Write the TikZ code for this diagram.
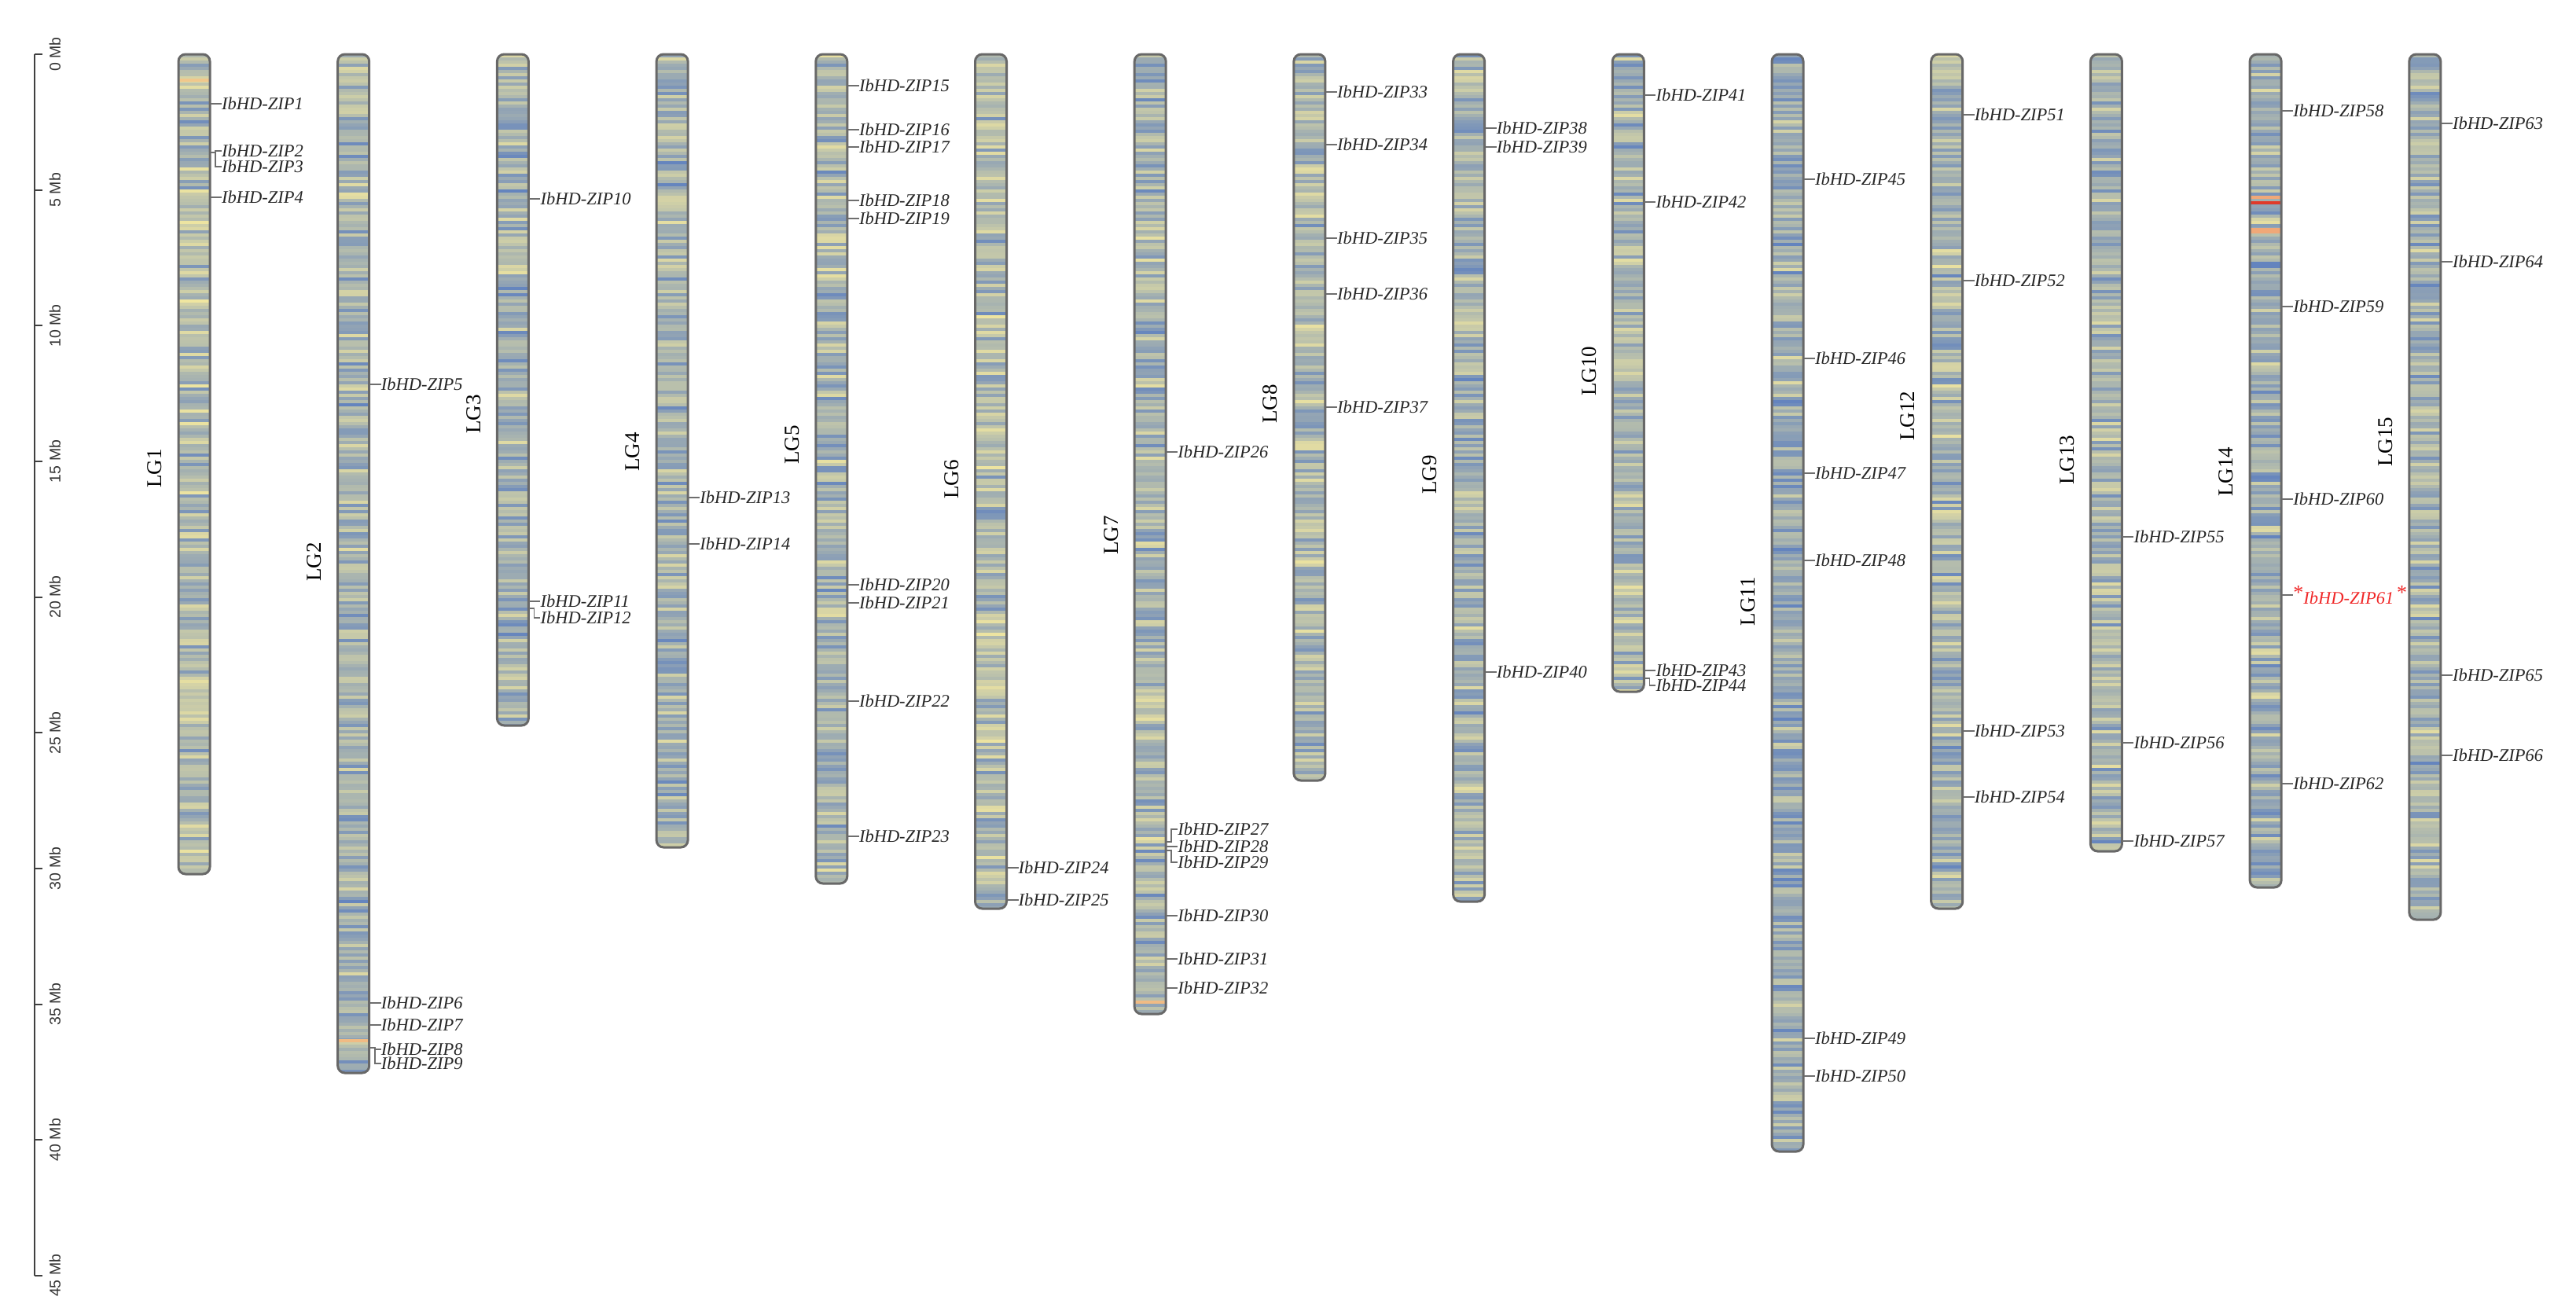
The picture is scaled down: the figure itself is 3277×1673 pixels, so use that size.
\documentclass[tikz,border=0pt]{standalone}
\usepackage{fontspec}
\setmainfont{Liberation Serif}
\newfontfamily\axisfont{Liberation Sans}
\definecolor{cb}{HTML}{6484BE}
\definecolor{cy}{HTML}{F0E6A0}
\definecolor{cor}{HTML}{F0A878}
\definecolor{cred}{HTML}{E03A2A}
\definecolor{edgec}{HTML}{686868}
\definecolor{connc}{HTML}{6E6E6E}
\definecolor{hlred}{HTML}{F02828}
\tikzset{
 genelab/.style={anchor=west, inner sep=0pt, font=\fontsize{22.5}{27}\selectfont\itshape, text=black!85},
 chrlab/.style={rotate=90, inner sep=0pt, font=\fontsize{27}{32}\selectfont},
 connector/.style={draw=connc, line width=1.6pt},
 chromedge/.style={draw=edgec, line width=3pt, rounded corners=9pt},
 axisline/.style={draw=black!75, line width=2pt},
 axislab/.style={rotate=90, inner sep=0pt, font=\axisfont\fontsize{19.5}{23}\selectfont, text=black!80},
}
% #1 index, #2 bottom y, #3 label y, #4 bias, #5 extra bands
\newcommand\chrom[5]{%
 \pgfmathsetmacro\cx{247+(#1-1)*202.7}
 \begin{scope}
 \clip[rounded corners=9pt] (\cx-20,69) rectangle (\cx+20,#2);
 \pgfmathtruncatemacro\nst{(#2-69)/4}
 \foreach \k in {0,...,\nst}{
   \pgfmathtruncatemacro\pct{max(0,min(100,52+#4+50*(rnd+rnd-1)))}
   \fill[cb!\pct!cy] (\cx-20,69+4*\k) rectangle (\cx+20,73.6+4*\k);
 }
 #5
 \end{scope}
 \draw[chromedge] (\cx-20,69) rectangle (\cx+20,#2);
 \node[chrlab] (lg#1) at (\cx-50,#3) {LG#1};
}
% #1 chrom, #2 number, #3 gene y, #4 label y
\newcommand\gene[4]{%
 \pgfmathsetmacro\cx{247+(#1-1)*202.7}
 \coordinate (p#2) at (\cx+21,#3);
 \node[genelab] (g#2) at (\cx+35,#4) {IbHD-ZIP#2};
 \draw[connector] (p#2) -- ++(6,0) |- (g#2.west);
}
\newcommand\generd[4]{%
 \pgfmathsetmacro\cx{247+(#1-1)*202.7}
 \coordinate (p#2) at (\cx+21,#3);
 \node[genelab, text=hlred] (g#2) at (\cx+35,#4) {\raisebox{0.3em}{\upshape\fontsize{26}{26}\selectfont *}IbHD-ZIP#2\,\raisebox{0.3em}{\upshape\fontsize{26}{26}\selectfont *}};
 \draw[connector] (p#2) -- ++(6,0) |- (g#2.west);
}
\begin{document}
\begin{tikzpicture}[x=1pt,y=-1pt]
\pgfmathsetseed{7}
\useasboundingbox (0,0) rectangle (3277,1673);
% axis
\draw[axisline] (44,69) -- (44,1623);
\foreach \m in {0,5,...,45}{
  \draw[axisline] (44,69+34.53*\m) -- (54,69+34.53*\m);
  \node[axislab] (ax\m) at (70,69+34.53*\m) {\m\ Mb};
}
% chromosomes
\chrom{1}{1112}{596}{-6}{\fill[cor!50!cy] (\cx-20,100) rectangle (\cx+20,104);}
\chrom{2}{1365}{715}{0}{\fill[cor!70!cy] (\cx-20,1322) rectangle (\cx+20,1326);}
\chrom{3}{923}{527}{2}{}
\chrom{4}{1078}{575}{0}{}
\chrom{5}{1124}{566}{0}{}
\chrom{6}{1156}{610}{-4}{}
\chrom{7}{1290}{681}{0}{\fill[cor!70!cy] (\cx-20,1273) rectangle (\cx+20,1277);}
\chrom{8}{993}{514}{-2}{}
\chrom{9}{1147}{604}{0}{}
\chrom{10}{880}{472}{0}{}
\chrom{11}{1465}{765}{8}{}
\chrom{12}{1156}{529}{0}{}
\chrom{13}{1083}{585}{0}{}
\chrom{14}{1129}{600}{4}{\fill[cor] (\cx-20,249) rectangle (\cx+20,253);
  \fill[cred] (\cx-20,255.5) rectangle (\cx+20,260);
  \fill[cor] (\cx-20,290) rectangle (\cx+20,297);}
\chrom{15}{1170}{562}{2}{}
% genes
\gene{1}{1}{132}{132}
\gene{1}{2}{194}{192}
\gene{1}{3}{194}{212}
\gene{1}{4}{251}{251}
\gene{2}{5}{489}{489}
\gene{2}{6}{1276}{1276}
\gene{2}{7}{1304}{1304}
\gene{2}{8}{1333}{1335}
\gene{2}{9}{1333}{1353}
\gene{3}{10}{253}{253}
\gene{3}{11}{765}{765}
\gene{3}{12}{774}{786}
\gene{4}{13}{633}{633}
\gene{4}{14}{692}{692}
\gene{5}{15}{109}{109}
\gene{5}{16}{165}{165}
\gene{5}{17}{187}{187}
\gene{5}{18}{255}{255}
\gene{5}{19}{278}{278}
\gene{5}{20}{744}{744}
\gene{5}{21}{767}{767}
\gene{5}{22}{892}{892}
\gene{5}{23}{1064}{1064}
\gene{6}{24}{1104}{1104}
\gene{6}{25}{1145}{1145}
\gene{7}{26}{575}{575}
\gene{7}{27}{1071}{1055}
\gene{7}{28}{1077}{1077}
\gene{7}{29}{1082}{1097}
\gene{7}{30}{1165}{1165}
\gene{7}{31}{1220}{1220}
\gene{7}{32}{1257}{1257}
\gene{8}{33}{117}{117}
\gene{8}{34}{184}{184}
\gene{8}{35}{303}{303}
\gene{8}{36}{374}{374}
\gene{8}{37}{518}{518}
\gene{9}{38}{163}{163}
\gene{9}{39}{187}{187}
\gene{9}{40}{855}{855}
\gene{10}{41}{121}{121}
\gene{10}{42}{257}{257}
\gene{10}{43}{853}{853}
\gene{10}{44}{863}{872}
\gene{11}{45}{228}{228}
\gene{11}{46}{456}{456}
\gene{11}{47}{602}{602}
\gene{11}{48}{713}{713}
\gene{11}{49}{1321}{1321}
\gene{11}{50}{1369}{1369}
\gene{12}{51}{146}{146}
\gene{12}{52}{357}{357}
\gene{12}{53}{930}{930}
\gene{12}{54}{1014}{1014}
\gene{13}{55}{683}{683}
\gene{13}{56}{945}{945}
\gene{13}{57}{1070}{1070}
\gene{14}{58}{141}{141}
\gene{14}{59}{390}{390}
\gene{14}{60}{635}{635}
\generd{14}{61}{757}{757}
\gene{14}{62}{997}{997}
\gene{15}{63}{157}{157}
\gene{15}{64}{333}{333}
\gene{15}{65}{859}{859}
\gene{15}{66}{961}{961}
\end{tikzpicture}
\end{document}
